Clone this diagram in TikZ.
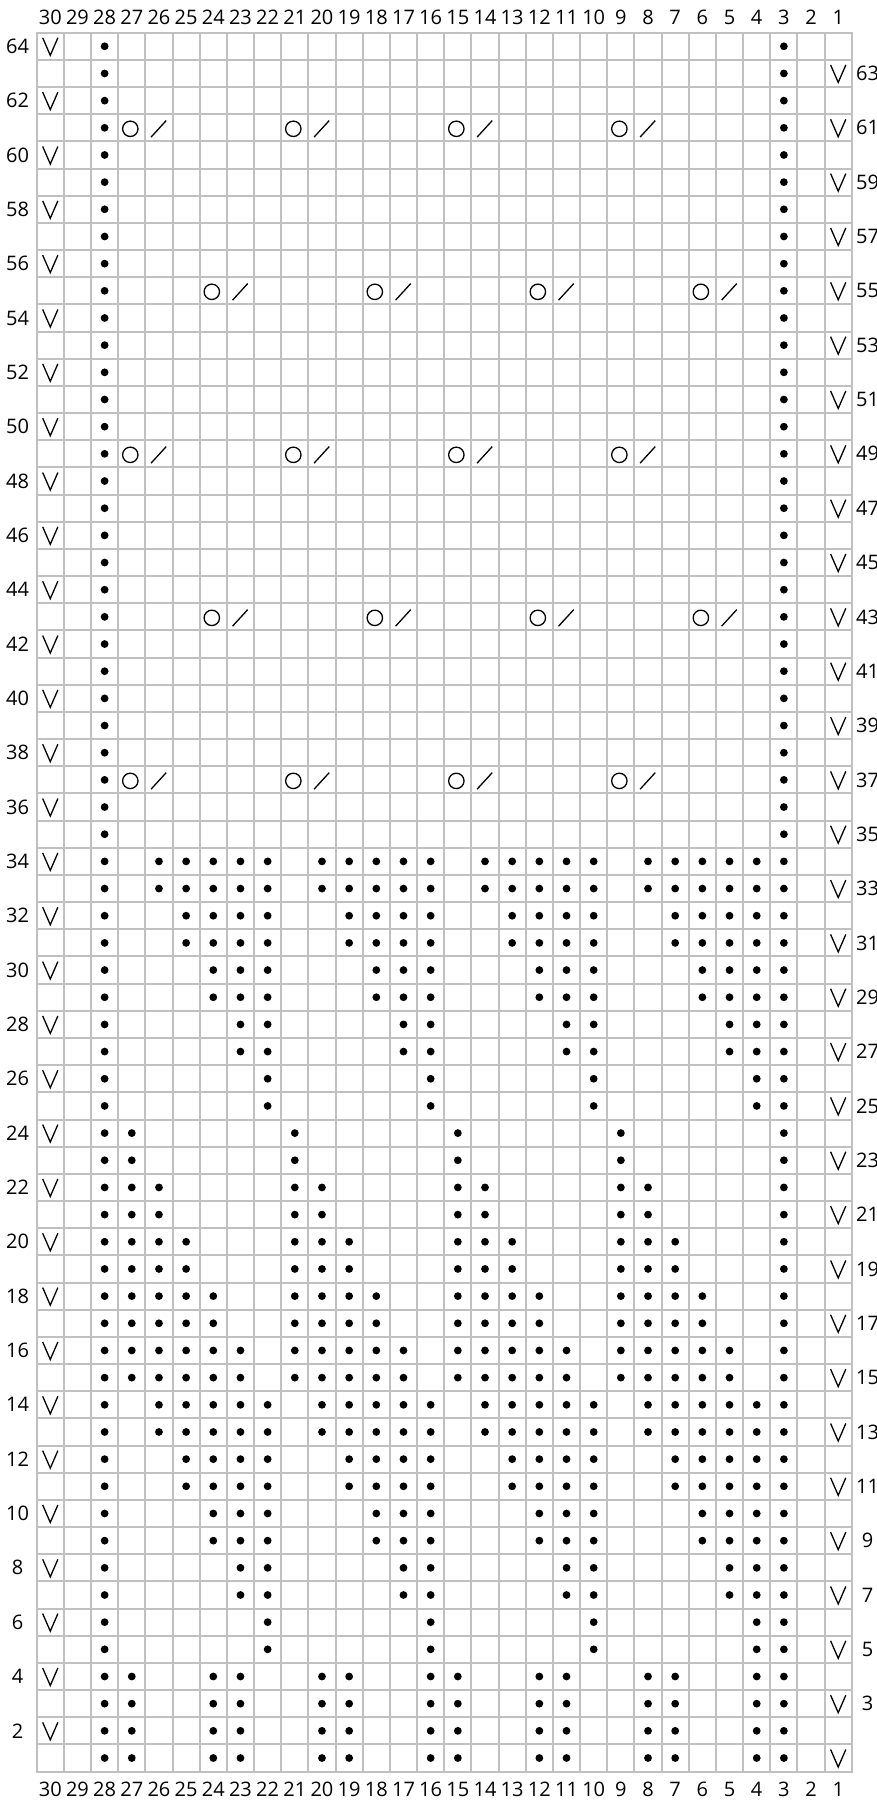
\documentclass[tikz,border=0pt]{standalone}
\usepackage{fontspec}
\setmainfont{Open Sans}
\definecolor{gridc}{RGB}{192,192,192}
\tikzset{
  gridline/.style={draw=gridc, line width=2pt, line cap=rect},
  symline/.style={draw=black, line width=1.3pt},
  lbl/.style={font=\fontsize{20}{24}\selectfont, inner sep=0pt, text=black},
  purl/.pic={\fill[black] (0,0) circle (3.9);},
  slipst/.pic={\draw[symline, line join=miter] (-7.6,-8.5) -- (0,9) -- (7.6,-8.5);},
  yarnover/.pic={\draw[symline] (-1.5,1) circle (7.7);},
  ktog/.pic={\draw[symline] (-7.9,9.3) -- (7.2,-7.2);},
}
\newcommand\st[3]{\pic at ({36.7+(30.5-#2)*27.17},{32.7+(64.5-#3)*27.17}) {#1};}
\begin{document}
\begin{tikzpicture}[x=1pt,y=-1pt]
\useasboundingbox[fill=white] (0,0) rectangle (876,1800);
% grid
\foreach \i in {0,...,30} \draw[gridline] ({36.7+\i*27.17},32.7) -- ({36.7+\i*27.17},1771.6);
\foreach \j in {0,...,64} \draw[gridline] (36.7,{32.7+\j*27.17}) -- (851.8,{32.7+\j*27.17});
% column labels
\foreach \c in {1,...,30} {
  \node[lbl] (top\c) at ({36.7+(30.5-\c)*27.17},17) {\c};
  \node[lbl] (bot\c) at ({36.7+(30.5-\c)*27.17},1789) {\c};
}
% row labels
\foreach \r in {2,4,...,64} \node[lbl] (L\r) at (17.5,{32.7+(64.5-\r)*27.17}) {\r};
\foreach \r in {3,5,...,63} \node[lbl] (R\r) at (867.5,{32.7+(64.5-\r)*27.17}) {\r};
% edge stitches
\foreach \r in {1,...,64} {\st{purl}{28}{\r} \st{purl}{3}{\r}}
\foreach \r in {2,4,...,64} {\st{slipst}{30}{\r}}
\foreach \r in {1,3,...,63} {\st{slipst}{1}{\r}}
% lace rows
\foreach \r in {61,49,37} {
  \foreach \c in {27,21,15,9} {\st{yarnover}{\c}{\r}}
  \foreach \c in {26,20,14,8} {\st{ktog}{\c}{\r}}
}
\foreach \r in {55,43} {
  \foreach \c in {24,18,12,6} {\st{yarnover}{\c}{\r}}
  \foreach \c in {23,17,11,5} {\st{ktog}{\c}{\r}}
}
% purl patterns
\foreach \r in {1,2,3,4} \foreach \c in {27,24,23,20,19,16,15,12,11,8,7,4} {\st{purl}{\c}{\r}}
\foreach \r in {5,6,25,26} \foreach \c in {22,16,10,4} {\st{purl}{\c}{\r}}
\foreach \r in {7,8,27,28} \foreach \c in {23,22,17,16,11,10,5,4} {\st{purl}{\c}{\r}}
\foreach \r in {9,10,29,30} \foreach \c in {24,23,22,18,17,16,12,11,10,6,5,4} {\st{purl}{\c}{\r}}
\foreach \r in {11,12,31,32} \foreach \c in {25,24,23,22,19,18,17,16,13,12,11,10,7,6,5,4} {\st{purl}{\c}{\r}}
\foreach \r in {13,14,33,34} \foreach \c in {26,25,24,23,22,20,19,18,17,16,14,13,12,11,10,8,7,6,5,4} {\st{purl}{\c}{\r}}
\foreach \r in {15,16} \foreach \c in {27,26,25,24,23,21,20,19,18,17,15,14,13,12,11,9,8,7,6,5} {\st{purl}{\c}{\r}}
\foreach \r in {17,18} \foreach \c in {27,26,25,24,21,20,19,18,15,14,13,12,9,8,7,6} {\st{purl}{\c}{\r}}
\foreach \r in {19,20} \foreach \c in {27,26,25,21,20,19,15,14,13,9,8,7} {\st{purl}{\c}{\r}}
\foreach \r in {21,22} \foreach \c in {27,26,21,20,15,14,9,8} {\st{purl}{\c}{\r}}
\foreach \r in {23,24} \foreach \c in {27,21,15,9} {\st{purl}{\c}{\r}}
\end{tikzpicture}
\end{document}
